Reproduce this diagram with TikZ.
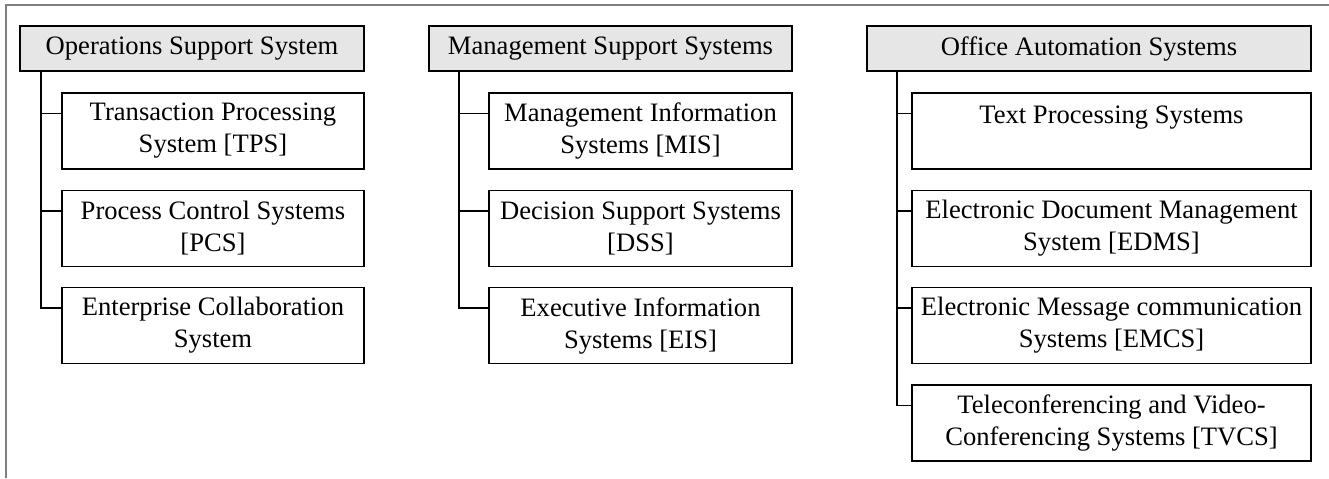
\documentclass[tikz,border=0pt]{standalone}
\usepackage{fontspec}
\setmainfont{Liberation Serif}
\usetikzlibrary{calc}
\definecolor{hdrfill}{HTML}{E6E6E6}
\definecolor{framegray}{HTML}{7F7F7F}
\tikzset{
  every node/.style={font=\fontsize{13.3pt}{16pt}\selectfont},
  hdrbox/.style={draw=black, line width=0.6pt, fill=hdrfill, inner sep=0pt,
    minimum height=22.5pt, align=center},
  itembox/.style={draw=black, line width=0.6pt, fill=white, inner sep=0pt,
    minimum height=38pt, align=center},
  link/.style={draw=black, line width=0.6pt},
  framerule/.style={draw=framegray, line width=1pt}
}
\begin{document}
\begin{tikzpicture}[x=0.5pt, y=-0.5pt]
  \useasboundingbox (0,0) rectangle (1329,478);
  % outer frame (top and left edges only)
  \coordinate (fTR) at (1329,4.5);
  \coordinate (fTL) at (5.5,4.5);
  \coordinate (fBL) at (5.5,478);
  \draw[framerule] (fTR) -- (fTL) -- (fBL);

  % column headers
  \node[hdrbox, minimum width=172pt] (h1) at (192,48.5) {Operations Support System};
  \node[hdrbox, minimum width=181.5pt] (h2) at (610.5,48.5) {Management Support Systems};
  \node[hdrbox, minimum width=222pt] (h3) at (1089,48.5) {Office Automation Systems};

  % column 1
  \node[itembox, minimum width=151pt] (a1) at (213,131) {Transaction Processing\\System [TPS]};
  \node[itembox, minimum width=151pt] (a2) at (213,228.5) {Process Control Systems\\{}[PCS]};
  \node[itembox, minimum width=151pt] (a3) at (213,325.5) {Enterprise Collaboration\\System};

  % column 2
  \node[itembox, minimum width=151.5pt] (b1) at (640.5,131) {Management Information\\Systems [MIS]};
  \node[itembox, minimum width=151.5pt] (b2) at (640.5,228.5) {Decision Support Systems\\{}[DSS]};
  \node[itembox, minimum width=151.5pt] (b3) at (640.5,325.5) {Executive Information\\Systems [EIS]};

  % column 3
  \node[itembox, minimum width=199.5pt] (c1) at (1111.5,131) {Text Processing Systems\\\mbox{}};
  \node[itembox, minimum width=199.5pt] (c2) at (1111.5,228.5) {Electronic Document Management\\System [EDMS]};
  \node[itembox, minimum width=199.5pt] (c3) at (1111.5,325.5) {Electronic Message communication\\Systems [EMCS]};
  \node[itembox, minimum width=199.5pt] (c4) at (1111.5,423) {Teleconferencing and Video-\\Conferencing Systems [TVCS]};

  % spine positions
  \coordinate (s1) at (41,0);
  \coordinate (s2) at (459,0);
  \coordinate (s3) at (897,0);

  % tree connectors: spine down from header, stub into each item
  \foreach \hd/\sp/\it in {h1/s1/a1, h1/s1/a2, h1/s1/a3,
                           h2/s2/b1, h2/s2/b2, h2/s2/b3,
                           h3/s3/c1, h3/s3/c2, h3/s3/c3, h3/s3/c4} {
    \draw[link] (\hd.south -| \sp) |- ($(\it.north west)+(0,-10.5pt)$);
  }
\end{tikzpicture}
\end{document}
